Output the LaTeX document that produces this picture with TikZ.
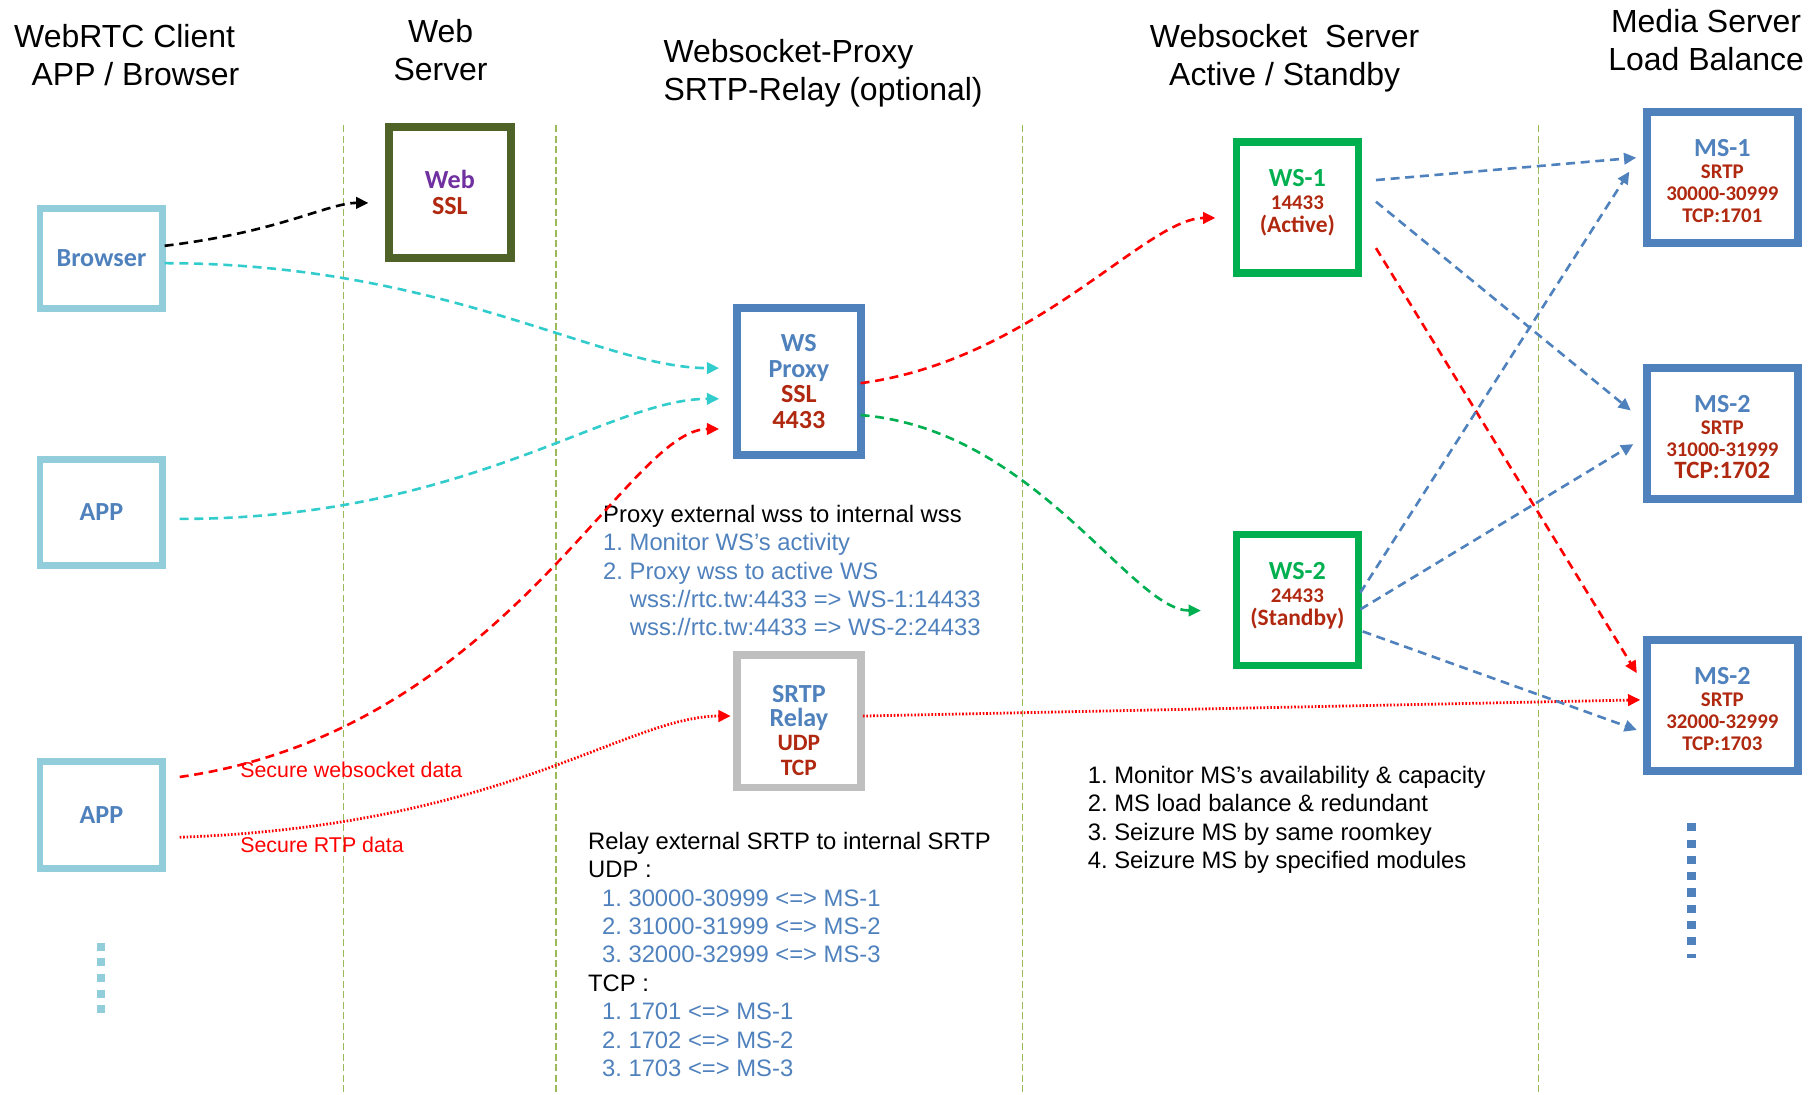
\documentclass[tikz,border=0pt]{standalone}
\usepackage{fontspec}
\setmainfont{Liberation Sans}
\newfontfamily\calib{Carlito}
\usetikzlibrary{positioning,calc,arrows.meta}

\definecolor{cliblue}{RGB}{146,205,220}
\definecolor{txtblue}{RGB}{79,129,189}
\definecolor{txtred}{RGB}{175,40,15}
\definecolor{wsgreen}{RGB}{0,176,80}
\definecolor{weboli}{RGB}{79,98,40}
\definecolor{webpurple}{RGB}{112,48,160}
\definecolor{relaygray}{RGB}{191,191,191}
\definecolor{guidegreen}{RGB}{155,187,89}
\definecolor{arrowcyan}{RGB}{51,204,204}

\newcommand\boxmid{\fontsize{14.4}{14.4}\selectfont}
\newcommand\boxsmall{\fontsize{12.8}{12.8}\selectfont}

\begin{document}
\frenchspacing
\begin{tikzpicture}[x=0.025cm, y=-0.025cm,
headtext/.style={font=\fontsize{19.6}{23.4}\selectfont, inner sep=0pt},
bodytext/.style={font=\fontsize{14.6}{17.4}\selectfont, align=left, anchor=north west, inner sep=0pt},
datalabel/.style={font=\fontsize{13.1}{15}\selectfont, text=red, anchor=west, inner sep=0pt},
clientbox/.style={rectangle, draw=cliblue, line width=0.15cm, minimum width=2.65cm, minimum height=2.3cm, inner sep=0pt, text=txtblue, font=\calib\bfseries\fontsize{16}{16}\selectfont},
webbox/.style={rectangle, draw=weboli, line width=0.1625cm, minimum width=2.625cm, minimum height=2.825cm, inner sep=0pt, align=center, text=txtred, font=\calib\bfseries\fontsize{16}{16.3}\selectfont},
proxybox/.style={rectangle, draw=txtblue, line width=0.1625cm, minimum width=2.675cm, minimum height=3.175cm, inner sep=0pt, align=center, text=txtblue, font=\calib\bfseries\fontsize{16}{15.6}\selectfont},
relaybox/.style={rectangle, draw=relaygray, line width=0.1625cm, minimum width=2.675cm, minimum height=2.85cm, inner sep=0pt, align=center, text=txtblue, font=\calib\bfseries\fontsize{16}{14.9}\selectfont},
wsbox/.style={rectangle, draw=wsgreen, line width=0.1625cm, minimum width=2.625cm, minimum height=2.825cm, inner sep=0pt, align=center, text=wsgreen, font=\calib\bfseries\fontsize{16}{14.2}\selectfont},
msbox/.style={rectangle, draw=txtblue, line width=0.1625cm, minimum width=3.25cm, minimum height=2.825cm, inner sep=0pt, align=center, text=txtred, font=\calib\bfseries\fontsize{16}{13.5}\selectfont},
guide/.style={guidegreen, line width=0.7pt, dash pattern=on 4.3pt off 2.1pt},
flow/.style={line width=1.6pt, dash pattern=on 5.5pt off 3.5pt, -{Triangle[length=7.5pt,width=7pt]}},
dotflow/.style={line width=1.7pt, dash pattern=on 1pt off 1.1pt, -{Triangle[length=7.5pt,width=7pt]}},
]
\useasboundingbox (0,0) rectangle (1568,944);

%Headers
\node[headtext, align=left, anchor=west] (hclient) at (12,47.5) {WebRTC Client\\\hspace*{0.375cm}APP / Browser};
\node[headtext, align=center] (hweb) at (380,43.5) {Web\\Server};
\node[headtext, align=left, anchor=west] (hproxy) at (572,63.5) {Websocket-Proxy\\SRTP-Relay (optional)};
\node[headtext, align=center] (hws) at (1108,50.5) {Websocket~ Server\\Active / Standby};
\node[headtext, align=center] (hms) at (1471.5,34.5) {Media Server\\Load Balance};

%Guide lines
\foreach \gx in {296.5,479.5,882,1327}
  \draw[guide] (\gx,108) -- (\gx,944);

%Nodes
\node[clientbox, minimum height=2.15cm] (browser) at (87.5,223) {Browser};
\node[clientbox] (app1) [below=3.1cm of browser] {APP};
\node[clientbox] (app2) [below=4.075cm of app1] {APP};
\node[webbox] (web) at (388,166) {\textcolor{webpurple}{Web}\\SSL};
\node[proxybox] (proxy) at (689,329) {WS\\Proxy\\\textcolor{txtred}{SSL}\\\textcolor{txtred}{4433}};
\node[relaybox] (relay) [below=4.15cm of proxy] {\rule{0pt}{0.76cm}SRTP\\Relay\\\boxmid\textcolor{txtred}{UDP}\\\boxmid\textcolor{txtred}{TCP}};
\node[wsbox] (ws1) at (1119,179) {WS-1\\\boxsmall\textcolor{txtred}{14433}\\\boxmid\textcolor{txtred}{(Active)}\rule[-0.27cm]{0pt}{0pt}};
\node[wsbox] (ws2) [below=5.475cm of ws1] {WS-2\\\boxsmall\textcolor{txtred}{24433}\\\boxmid\textcolor{txtred}{(Standby)}\rule[-0.27cm]{0pt}{0pt}};
\node[msbox] (ms1) at (1485.5,153) {\rule{0pt}{0.51cm}\textcolor{txtblue}{MS-1}\\\boxsmall SRTP\\\boxsmall 30000-30999\\\boxsmall TCP:1701};
\node[msbox] (ms2) [below=2.5375cm of ms1] {\rule{0pt}{0.51cm}\textcolor{txtblue}{MS-2}\\\boxsmall SRTP\\\boxsmall 31000-31999\\\fontsize{15.3}{15.3}\selectfont TCP:1702};
\node[msbox] (ms3) [below=2.875cm of ms2] {\rule{0pt}{0.51cm}\textcolor{txtblue}{MS-2}\\\boxsmall SRTP\\\boxsmall 32000-32999\\\boxsmall TCP:1703};

%Notes
\node[bodytext] (proxynote) at (520,435.5) {Proxy external wss to internal wss\\
  \textcolor{txtblue}{1. Monitor WS’s activity}\\
  \textcolor{txtblue}{2. Proxy wss to active WS}\\
  \hspace*{0.575cm}\textcolor{txtblue}{wss://rtc.tw:4433 => WS-1:14433}\\
  \hspace*{0.575cm}\textcolor{txtblue}{wss://rtc.tw:4433 => WS-2:24433}};
\node[bodytext] (relaynote) at (507,717.5) {Relay external SRTP to internal SRTP\\
  UDP :\\
  \hspace*{0.3cm}\textcolor{txtblue}{1. 30000-30999 <=> MS-1}\\
  \hspace*{0.3cm}\textcolor{txtblue}{2. 31000-31999 <=> MS-2}\\
  \hspace*{0.3cm}\textcolor{txtblue}{3. 32000-32999 <=> MS-3}\\
  TCP :\\
  \hspace*{0.3cm}\textcolor{txtblue}{1. 1701 <=> MS-1}\\
  \hspace*{0.3cm}\textcolor{txtblue}{2. 1702 <=> MS-2}\\
  \hspace*{0.3cm}\textcolor{txtblue}{3. 1703 <=> MS-3}};
\node[bodytext] (msnote) at (938,660.5) {1. Monitor MS’s availability \& capacity\\
  2. MS load balance \& redundant\\
  3. Seizure MS by same roomkey\\
  4. Seizure MS by specified modules};
\node[datalabel] (wsdata) at (207,664) {Secure websocket data};
\node[datalabel] (rtpdata) at (207,729) {Secure RTP data};

%More clients / servers
\draw[cliblue, line width=5pt, dash pattern=on 5pt off 4.6pt] (87,813) -- (87,876);
\draw[txtblue, line width=5.5pt, dash pattern=on 5pt off 5pt] (1459,710) -- (1459,826);

%Lines
\draw[flow, black] ($(browser.east)+(-1.5,-11)$) .. controls +(100,-12) and +(-35,0) .. ($(web.west)+(-14.5,9)$);
\draw[flow, arrowcyan] ($(browser.east)+(-1.5,4)$) .. controls +(240,0) and +(-102,0) .. ($(proxy.west)+(-12,-11.5)$);
\draw[flow, arrowcyan] ($(app1.east)+(11.5,5.5)$) .. controls +(248,0) and +(-96,0) .. ($(proxy.west)+(-12,15)$);
\draw[flow, red] ($(app2.east)+(11.5,-33)$) .. controls +(280,-40) and +(-80,0) .. ($(proxy.west)+(-12,41)$);
\draw[dotflow, red] ($(app2.east)+(11.5,19)$) .. controls +(280,-10) and +(-90,0) .. ($(relay.west)+(-2,-4.5)$);
\draw[dotflow, red] ($(relay.east)+(-1.5,-4.5)$) -- ($(ms3.west)+(-2.5,-5)$);
\draw[flow, red] ($(proxy.east)+(-3.5,1.5)$) .. controls +(150,-20) and +(-60,0) .. ($(ws1.west)+(-15,9)$);
\draw[flow, wsgreen] ($(proxy.east)+(-3.5,29)$) .. controls +(150,12) and +(-60,0) .. ($(ws2.west)+(-27.5,9)$);
\draw[flow, txtblue] ($(ws1.east)+(12,-23.7)$) -- ($(ms1.west)+(-6,-17)$);
\draw[flow, txtblue] ($(ws1.east)+(12,-5)$) -- ($(ms2.west)+(-10.7,-20)$);
\draw[flow, red] ($(ws1.east)+(12,35)$) -- ($(ms3.west)+(-5.5,-28)$);
\draw[flow, txtblue] ($(ws2.east)+(-1.5,-6.4)$) -- ($(ms1.west)+(-12,-5)$);
\draw[flow, txtblue] ($(ws2.east)+(-1.5,8)$) -- ($(ms2.west)+(-8.5,9)$);
\draw[flow, txtblue] ($(ws2.east)+(0.5,27)$) -- ($(ms3.west)+(-5.5,21)$);
\end{tikzpicture}
\end{document}
